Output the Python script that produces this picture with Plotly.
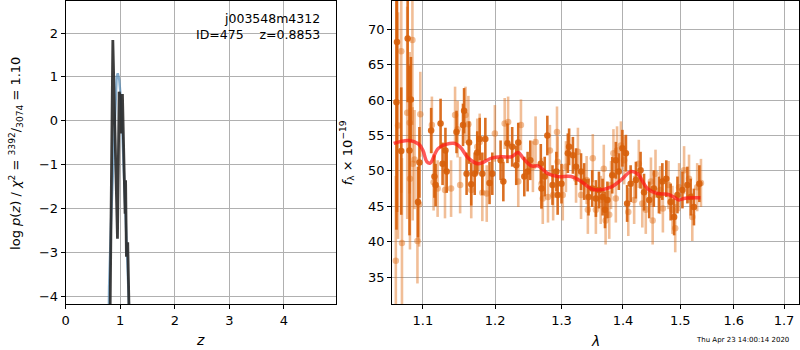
import plotly.graph_objects as go

# ---------------- data ----------------
# left panel: log p(z)
pz_z = [0.812, 0.864, 0.949, 0.980, 1.000, 1.016, 1.040, 1.089, 1.098, 1.102, 1.113, 1.137, 1.142, 1.165]
pz_logp = [-4.6, 1.84, -2.69, 0.66, 0.55, -0.29, 0.61, -2.12, -1.36, -2.4, -3.1, -2.77, -3.2, -4.6]

chi_z = [0.788, 0.795, 0.832, 0.874, 0.905, 0.934, 0.954, 0.982, 1.018, 1.042, 1.080, 1.122, 1.164, 1.172]
chi_logp = [-4.6, -3.79, -2.27, -0.75, 0.39, 1.0, 1.08, 0.93, 0.39, -0.37, -1.51, -3.03, -4.32, -4.6]

# right panel: spectrum, two sets of points (dark / light)
dark_lam = [1.0655, 1.0662, 1.0717, 1.0800, 1.0824, 1.0842, 1.0935, 1.0954,
            1.1110, 1.1154, 1.1170, 1.1237, 1.1264, 1.1303, 1.1320, 1.1455, 1.1545, 1.1560, 1.1595, 1.1630,
            1.1660, 1.1709, 1.1745, 1.1780, 1.1817, 1.1860, 1.1920, 1.1960,
            1.2080, 1.2120, 1.2180, 1.2250, 1.2310, 1.2340, 1.2430, 1.2480, 1.2520, 1.2680, 1.2690, 1.2740,
            1.2780, 1.2860, 1.2920, 1.2940, 1.3000, 1.3100,
            1.3120, 1.3180, 1.3230, 1.3310, 1.3360, 1.3430, 1.3490, 1.3550, 1.3600, 1.3660, 1.3700, 1.3740,
            1.3820, 1.3880, 1.3930, 1.3990, 1.4050, 1.4070, 1.4130, 1.4220, 1.4300, 1.4360, 1.4450, 1.4530,
            1.4620, 1.4680, 1.4750, 1.4828, 1.4890, 1.4950, 1.5040, 1.5130, 1.5190, 1.5250, 1.5350]
dark_flux = [59.7, 68.2, 52.8, 68.7, 52.9, 60.1, 45.6, 51.2,
             55.7, 49.2, 48.0, 56.7, 51.0, 52.9, 49.9, 55.5, 56.5, 58.5, 49.6, 54.0,
             48.1, 49.6, 52.6, 54.5, 49.6, 54.5, 48.3, 49.6,
             51.5, 48.5, 53.9, 53.4, 50.8, 54.0, 49.2, 49.9, 51.5, 51.0, 47.5, 49.2,
             55.0, 48.0, 49.9, 46.6, 48.2, 52.5,
             53.4, 52.2, 50.6, 49.9, 48.5, 46.3, 47.5, 46.1, 47.3, 46.3, 44.5, 45.9,
             49.4, 51.5, 49.9, 53.2, 52.5, 45.4, 48.2, 48.7, 50.1, 47.0, 45.9, 47.5,
             46.6, 48.5, 48.9, 45.6, 43.5, 46.6, 47.3, 48.0, 46.3, 44.9, 48.2]
dark_err = [18.0, 24.0, 9.0, 9.0, 12.0, 6.0, 5.0, 5.0,
            3.2, 3.0, 3.0, 3.5, 3.0, 3.2, 3.0, 3.0, 3.0, 3.2, 3.0, 3.0,
            3.0, 3.0, 3.0, 3.0, 3.0, 3.0, 3.0, 3.0,
            2.8, 2.8, 2.8, 2.8, 2.8, 2.8, 2.8, 2.8, 2.8, 2.8, 2.8, 2.8,
            2.8, 2.8, 2.8, 2.8, 2.8, 2.8,
            2.6, 2.6, 2.6, 2.6, 2.6, 2.6, 2.6, 2.6, 2.6, 2.6, 2.6, 2.6,
            2.6, 2.6, 2.6, 2.6, 2.6, 2.6, 2.6, 2.6, 2.6, 2.6, 2.6, 2.6,
            2.6, 2.6, 2.6, 2.6, 2.6, 2.6, 2.6, 2.6, 2.6, 2.6, 2.6]

light_lam = [1.0647, 1.0676, 1.0717, 1.0726, 1.0794, 1.0826, 1.0830, 1.0862, 1.0866, 1.0890, 1.0928, 1.0950, 1.0966,
             1.1120, 1.1143, 1.1197, 1.1297, 1.1380, 1.1435, 1.1470, 1.1505, 1.1580, 1.1620, 1.1660, 1.1745,
             1.1780, 1.1817, 1.1880, 1.1997,
             1.2140, 1.2190, 1.2340, 1.2380, 1.2560, 1.2600, 1.2690, 1.2710, 1.2790, 1.2820, 1.2870, 1.2930,
             1.2940, 1.3020, 1.3070,
             1.3230, 1.3260, 1.3310, 1.3400, 1.3420, 1.3500, 1.3550, 1.3630, 1.3680, 1.3710, 1.3770, 1.3800,
             1.3840, 1.3880, 1.3900, 1.3965, 1.4020, 1.4090, 1.4190, 1.4270, 1.4330, 1.4390, 1.4480, 1.4510,
             1.4560, 1.4640, 1.4690, 1.4790, 1.4860, 1.4910, 1.4980, 1.5070, 1.5160, 1.5220, 1.5310, 1.5380]
light_flux = [37.3, 56.4, 66.9, 39.8, 58.2, 56.8, 48.9, 68.5, 51.0, 51.6, 40.1, 45.3, 58.0,
              56.5, 48.4, 47.5, 47.3, 47.5, 57.9, 55.9, 48.0, 57.9, 56.6, 47.3, 53.4,
              54.1, 46.9, 46.8, 55.3,
              56.7, 56.9, 48.5, 56.5, 50.6, 54.1, 48.2, 46.1, 46.3, 52.9, 46.6, 55.5,
              51.3, 46.6, 50.6,
              48.9, 52.7, 46.6, 48.7, 44.5, 51.8, 44.5, 45.9, 50.3, 43.0, 43.8, 48.0,
              52.5, 46.1, 52.9, 53.6, 51.5, 44.2, 45.9, 51.0, 45.4, 44.5, 48.5, 43.0,
              49.6, 47.3, 44.7, 48.0, 44.5, 41.9, 47.7, 50.1, 48.9, 43.5, 47.7, 48.3]
light_err = [12.0, 16.0, 20.0, 12.0, 15.0, 10.0, 10.0, 12.0, 8.0, 7.0, 6.0, 6.0, 6.0,
             4.0, 4.0, 4.0, 4.0, 4.0, 4.0, 4.0, 4.0, 4.0, 4.0, 4.0, 4.0,
             4.0, 4.0, 4.0, 4.0,
             3.6, 3.6, 3.6, 3.6, 3.6, 3.6, 3.6, 3.6, 3.6, 3.6, 3.6, 3.6,
             3.6, 3.6, 3.6,
             3.4, 3.4, 3.4, 3.4, 3.4, 3.4, 3.4, 3.4, 3.4, 3.4, 3.4, 3.4,
             3.4, 3.4, 3.4, 3.4, 3.4, 3.4, 3.4, 3.4, 3.4, 3.4, 3.4, 3.4,
             3.4, 3.4, 3.4, 3.4, 3.4, 3.4, 3.4, 3.4, 3.4, 3.4, 3.4, 3.4]

model_lam = [1.0620, 1.0812, 1.0943, 1.1000, 1.1053, 1.1097, 1.1209, 1.1413, 1.1503, 1.1620, 1.1760,
             1.1950, 1.2094, 1.2240, 1.2339, 1.2413, 1.2537, 1.2638, 1.2791, 1.2944, 1.3152, 1.3311,
             1.3471, 1.3580, 1.3798, 1.3965, 1.4133, 1.4247, 1.4419, 1.4593, 1.4769, 1.4887, 1.4977,
             1.5068, 1.5221, 1.5370]
model_flux = [53.9, 54.3, 53.8, 52.9, 51.3, 51.1, 53.2, 53.9, 53.4, 51.8, 51.0,
              51.8, 52.0, 52.0, 52.6, 51.8, 50.7, 50.7, 49.6, 49.2, 49.2, 48.5,
              47.5, 47.3, 47.7, 48.7, 49.9, 49.6, 47.5, 46.8, 46.7, 46.3, 45.9,
              46.1, 46.2, 46.2]

x_ticks_right = [1.1, 1.2, 1.3, 1.4, 1.5, 1.6, 1.7]
x_ticks_left = [0, 1, 2, 3, 4]
y_ticks_left = [-4, -3, -2, -1, 0, 1, 2]
y_ticks_right = [35, 40, 45, 50, 55, 60, 65, 70]

obj_name = "j003548m4312"
obj_info = "ID=475    z=0.8853"
timestamp = "Thu Apr 23 14:00:14 2020"

# ---------------- figure ----------------
FONT = "DejaVu Sans"
W, H = 800, 350
fig = go.Figure()

fig.add_trace(go.Scatter(x=chi_z, y=chi_logp, mode="lines",
                         line=dict(color="rgba(70,130,180,0.65)", width=2.4),
                         xaxis="x", yaxis="y", showlegend=False, hoverinfo="skip"))
fig.add_trace(go.Scatter(x=pz_z, y=pz_logp, mode="lines",
                         line=dict(color="rgba(40,40,40,0.9)", width=2.8),
                         xaxis="x", yaxis="y", showlegend=False, hoverinfo="skip"))

fig.add_trace(go.Scatter(x=light_lam, y=light_flux, mode="markers",
                         marker=dict(color="rgba(225,110,25,0.45)", size=6.5),
                         error_y=dict(type="data", array=light_err, color="rgba(225,110,25,0.45)",
                                      thickness=2.6, width=0),
                         xaxis="x2", yaxis="y2", showlegend=False))
fig.add_trace(go.Scatter(x=dark_lam, y=dark_flux, mode="markers",
                         marker=dict(color="rgba(215,95,10,0.9)", size=6.5),
                         error_y=dict(type="data", array=dark_err, color="rgba(215,95,10,0.9)",
                                      thickness=2.6, width=0),
                         xaxis="x2", yaxis="y2", showlegend=False))
fig.add_trace(go.Scatter(x=model_lam, y=model_flux, mode="lines", line_shape="spline",
                         line=dict(color="rgba(255,20,20,0.7)", width=3.5),
                         xaxis="x2", yaxis="y2", showlegend=False, hoverinfo="skip"))

axis_common = dict(showline=True, linecolor="black", linewidth=1, mirror=True,
                   ticks="outside", ticklen=4, tickcolor="black", tickwidth=1,
                   showgrid=True, gridcolor="#b0b0b0", gridwidth=1, zeroline=False,
                   tickfont=dict(family=FONT, size=13, color="black"))

y0 = 1 - 304 / H
y1 = 1 - 1 / H
fig.update_layout(
    width=W, height=H, margin=dict(l=0, r=0, t=0, b=0),
    paper_bgcolor="white", plot_bgcolor="white",
    font=dict(family=FONT, size=13, color="black"),
    xaxis=dict(domain=[62 / W, 334 / W], range=[0, 4.96], tickvals=x_ticks_left,
               anchor="y", **axis_common),
    yaxis=dict(domain=[y0, y1], range=[-4.18, 2.73], tickvals=y_ticks_left,
               anchor="x", **axis_common),
    xaxis2=dict(domain=[390 / W, 799 / W], type="log", range=[0.02525, 0.23827],
                tickvals=x_ticks_right, ticktext=[f"{v:.1f}" for v in x_ticks_right],
                anchor="y2", **axis_common),
    yaxis2=dict(domain=[y0, y1], range=[31.2, 74.0], tickvals=y_ticks_right,
                anchor="x2", **axis_common),
)

ann = [
    dict(text=obj_name, x=320 / W, y=1 - 19 / H, xanchor="right", yanchor="middle",
         font=dict(size=12.5)),
    dict(text=obj_info, x=320 / W, y=1 - 34 / H, xanchor="right", yanchor="middle",
         font=dict(size=12.5)),
    dict(text="<i>z</i>", x=197 / W, y=1 - 340 / H, xanchor="center", yanchor="middle",
         font=dict(size=14)),
    dict(text="<i>λ</i>", x=594 / W, y=1 - 341 / H, xanchor="center", yanchor="middle",
         font=dict(size=14)),
    dict(text="log <i>p</i>(<i>z</i>) / <i>χ</i><sup>2</sup> = <sup>3392</sup>/<sub>3074</sub> = 1.10",
         x=12 / W, y=1 - 153 / H, xanchor="center", yanchor="middle", textangle=-90,
         font=dict(size=13)),
    dict(text="<i>f</i><sub>λ</sub> × 10<sup>−19</sup>",
         x=345 / W, y=1 - 153 / H, xanchor="center", yanchor="middle", textangle=-90,
         font=dict(size=13)),
    dict(text=timestamp, x=742 / W, y=1 - 340 / H, xanchor="center", yanchor="middle",
         font=dict(size=7)),
]
for a in ann:
    a.update(xref="paper", yref="paper", showarrow=False)
fig.update_layout(annotations=ann)

fig.write_html("out.html", config={"displayModeBar": False},
               post_script="document.body.style.margin='0px';")
